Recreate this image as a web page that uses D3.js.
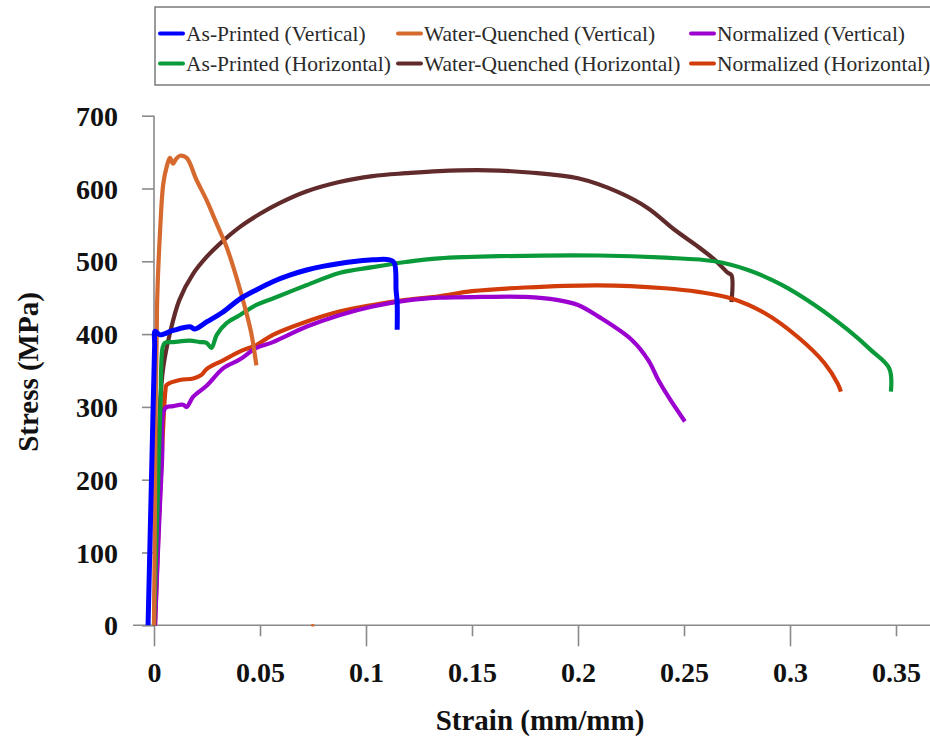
<!DOCTYPE html>
<html>
<head>
<meta charset="utf-8">
<script src="https://cdn.jsdelivr.net/npm/d3@7"></script>
<style>
	body { margin: 0; background: #fff; }
	svg { display: block; }
</style>
</head>
<body>
<div id="chart"></div>
<script>
// Stress-strain curves, [strain, stress]
const asPrintedVertical = [
	[-0.0028, 0], [-0.0016, 150], [-0.0004, 300], [0.0003, 385], [0.0005, 404], [0.0028, 399],
	[0.009, 405], [0.017, 410], [0.0193, 407],
	[0.025, 417], [0.0324, 430], [0.0404, 448], [0.0484, 461], [0.056, 472], [0.064, 481],
	[0.072, 488], [0.0795, 493], [0.0875, 497], [0.0955, 500], [0.103, 502], [0.111, 502],
	[0.1133, 498], [0.1142, 460], [0.1147, 443], [0.1147, 406]
];
const waterQuenchedVertical = [
	[0, 0], [0.0004, 150], [0.0007, 282], [0.0013, 401], [0.0015, 447], [0.0028, 538], [0.0044, 607],
	[0.006, 630], [0.0075, 642], [0.009, 634], [0.0103, 640], [0.0122, 645], [0.0154, 642],
	[0.02, 612], [0.0248, 584], [0.0295, 552], [0.0342, 520], [0.0389, 478], [0.0436, 429],
	[0.0459, 401], [0.0483, 357]
];
const waterQuenchedStray = [[0.0742, 0], [0.0756, 0]];
const normalizedVertical = [
	[0.0005, 0], [0.002, 110], [0.0038, 227], [0.0052, 298], [0.009, 301], [0.0137, 303], [0.0154, 300],
	[0.0185, 314], [0.0248, 329], [0.0326, 353], [0.0404, 365], [0.0483, 381], [0.0561, 389],
	[0.0718, 410], [0.0874, 426], [0.1031, 438], [0.1188, 446], [0.1345, 450], [0.155, 451],
	[0.175, 451], [0.19, 447], [0.2, 440], [0.2097, 424], [0.2254, 392], [0.2332, 364],
	[0.2379, 337], [0.2426, 314], [0.2504, 280]
];
const asPrintedHorizontal = [
	[0, 0], [0.0016, 160], [0.0031, 309], [0.0041, 382], [0.0052, 388], [0.0091, 389], [0.0169, 391],
	[0.0216, 389], [0.0248, 388], [0.0271, 381], [0.0296, 399], [0.0342, 415], [0.0404, 426],
	[0.0483, 440], [0.0561, 449], [0.0718, 467], [0.0874, 484], [0.1031, 492], [0.1188, 499],
	[0.1345, 504], [0.163, 507], [0.2097, 508], [0.241, 505], [0.2645, 500], [0.2802, 488],
	[0.2959, 468], [0.3116, 440], [0.3272, 406], [0.3382, 378], [0.3468, 353], [0.3476, 321]
];
const waterQuenchedHorizontal = [
	[0, 0], [0.0015, 160], [0.003, 310], [0.0044, 355], [0.0075, 401], [0.012, 447], [0.0185, 483],
	[0.0248, 506], [0.031, 524], [0.0404, 547], [0.0498, 565], [0.0592, 580], [0.0718, 596],
	[0.0874, 609], [0.1031, 617], [0.1188, 621], [0.1345, 624], [0.158, 625], [0.177, 622],
	[0.2, 614], [0.219, 595], [0.233, 573], [0.2457, 543], [0.2567, 520], [0.2645, 502],
	[0.2708, 484], [0.2724, 481], [0.2724, 444]
];
const normalizedHorizontal = [
	[0.0005, 0], [0.002, 120], [0.0038, 240], [0.0054, 323], [0.0059, 330], [0.0122, 337], [0.0185, 339],
	[0.0224, 344], [0.0248, 352], [0.0326, 364], [0.0404, 376], [0.0483, 385], [0.0561, 399],
	[0.0718, 417], [0.0874, 431], [0.1031, 440], [0.1188, 447], [0.1345, 452], [0.15, 459],
	[0.175, 464], [0.2097, 467], [0.241, 463], [0.2567, 458], [0.2724, 449], [0.288, 429],
	[0.3037, 396], [0.3163, 360], [0.3225, 332], [0.324, 321]
];

const seriesNames = [
	"As-Printed (Vertical)", "Water-Quenched (Vertical)", "Normalized (Vertical)",
	"As-Printed (Horizontal)", "Water-Quenched (Horizontal)", "Normalized (Horizontal)"
];
const seriesColors = ["#0000ff", "#d66a2e", "#9b00d0", "#0b9a3a", "#622b2b", "#d23c0a"];
const seriesData = [
	asPrintedVertical, waterQuenchedVertical, normalizedVertical,
	asPrintedHorizontal, waterQuenchedHorizontal, normalizedHorizontal
];
// brown, red, purple, green, orange, blue
const drawOrder = [4, 5, 2, 3, 1, 0];

const xTicks = [0, 0.05, 0.1, 0.15, 0.2, 0.25, 0.3, 0.35];
const xTickLabels = ["0", "0.05", "0.1", "0.15", "0.2", "0.25", "0.3", "0.35"];
const yTicks = [0, 100, 200, 300, 400, 500, 600, 700];

/**
 * Dimensions
 */
const width = 930;
const height = 738;
const fontSerif = "'Liberation Serif', 'Times New Roman', serif";

const xScale = d3.scaleLinear().domain([0, 0.35]).range([154, 896]);
const yScale = d3.scaleLinear().domain([0, 700]).range([625.3, 115.7]);

const svg = d3.select("#chart").append("svg")
	.attr("width", width)
	.attr("height", height);

// Axes
const axisColor = "#8a8a8a";

// x axis line runs a little to the left of the y axis
svg.append("line")
	.attr("x1", 133).attr("x2", 930)
	.attr("y1", yScale(0)).attr("y2", yScale(0))
	.style("stroke", axisColor).style("stroke-width", 1.6);

const xAxis = d3.axisBottom(xScale).tickValues(xTicks).tickSize(21).tickPadding(12)
	.tickFormat(function(d, i) { return xTickLabels[i]; });
const gx = svg.append("g").attr("class", "xAxis").attr("transform", "translate(0," + yScale(0) + ")").call(xAxis);
gx.select(".domain").remove();
gx.selectAll(".tick line")
	.attr("y2", function(d, i) { return i % 2 === 0 ? 21 : 11; })
	.style("stroke", axisColor).style("stroke-width", 1.6);
gx.selectAll(".tick text")
	.attr("y", 37)
	.style("font-family", fontSerif).style("font-weight", "bold").style("font-size", "28px")
	.style("fill", "#111");

const yAxis = d3.axisLeft(yScale).tickValues(yTicks).tickSize(12).tickPadding(24);
const gy = svg.append("g").attr("class", "yAxis").attr("transform", "translate(" + xScale(0) + ",0)").call(yAxis);
gy.select(".domain").remove();
gy.append("line")
	.attr("x1", 0).attr("x2", 0)
	.attr("y1", yScale(700)).attr("y2", yScale(0))
	.style("stroke", axisColor).style("stroke-width", 1.6);
gy.selectAll(".tick line").style("stroke", axisColor).style("stroke-width", 1.6);
gy.selectAll(".tick text")
	.attr("dy", "0.34em")
	.style("font-family", fontSerif).style("font-weight", "bold").style("font-size", "28px")
	.style("fill", "#111");

// Axis titles
svg.append("text")
	.attr("x", 540).attr("y", 730)
	.attr("text-anchor", "middle")
	.style("font-family", fontSerif).style("font-weight", "bold").style("font-size", "29px")
	.style("fill", "#111")
	.text("Strain (mm/mm)");

svg.append("text")
	.attr("transform", "translate(38,372) rotate(-90)")
	.attr("text-anchor", "middle")
	.style("font-family", fontSerif).style("font-weight", "bold").style("font-size", "29px")
	.style("fill", "#111")
	.text("Stress (MPa)");

// Curves
const line = d3.line()
	.x(function(d) { return xScale(d[0]); })
	.y(function(d) { return yScale(d[1]); })
	.curve(d3.curveCatmullRom.alpha(0.5));

const curves = svg.append("g").attr("class", "curves");
curves.selectAll("path")
	.data(drawOrder)
	.enter().append("path")
	.attr("d", function(i) { return line(seriesData[i]); })
	.style("fill", "none")
	.style("stroke", function(i) { return seriesColors[i]; })
	.style("stroke-width", function(i) { return i === 0 ? 5 : 4.2; })
	.style("stroke-linejoin", "round");

curves.append("path")
	.attr("d", line(waterQuenchedStray))
	.style("fill", "none")
	.style("stroke", seriesColors[1])
	.style("stroke-width", 2.5);

// Legend
const legend = svg.append("g").attr("class", "legend");
legend.append("rect")
	.attr("x", 155).attr("y", 7)
	.attr("width", 790).attr("height", 78)
	.style("fill", "#fff")
	.style("stroke", "#7a7a7a").style("stroke-width", 1.5);

const legendCols = [160, 398, 691];
const legendRows = [33.5, 63.5];

const items = legend.selectAll(".item")
	.data(seriesNames)
	.enter().append("g")
	.attr("class", "item")
	.attr("transform", function(d, i) {
		return "translate(" + legendCols[i % 3] + "," + legendRows[Math.floor(i / 3)] + ")";
	});

items.append("line")
	.attr("x1", 0).attr("x2", 23)
	.style("stroke", function(d, i) { return seriesColors[i]; })
	.style("stroke-width", 4)
	.style("stroke-linecap", "round");

items.append("text")
	.attr("x", 26).attr("dy", "0.35em")
	.style("font-family", fontSerif).style("font-size", "21.5px")
	.style("fill", "#2a2a2a")
	.text(function(d) { return d; });
</script>
</body>
</html>
